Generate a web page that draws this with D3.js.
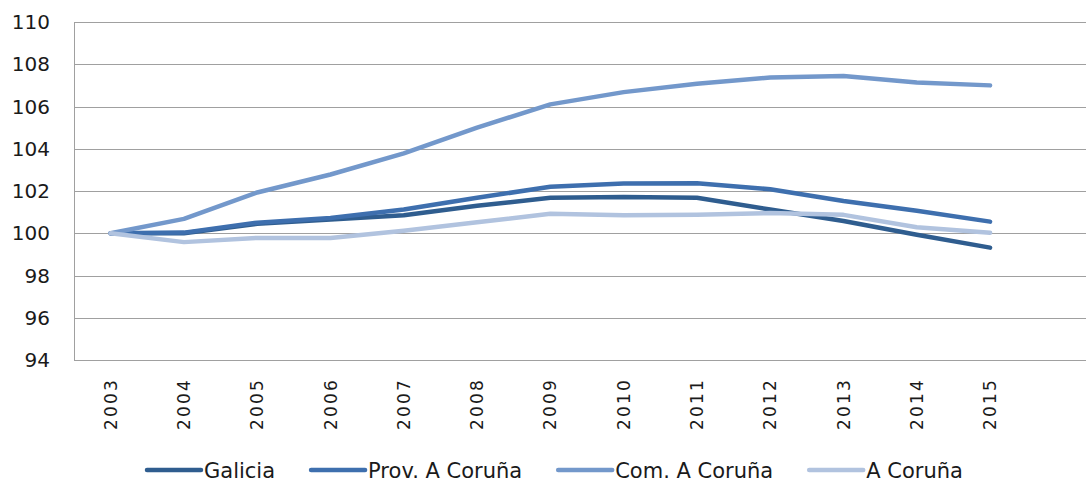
<!DOCTYPE html>
<html>
<head>
<meta charset="utf-8">
<script src="https://cdn.jsdelivr.net/npm/d3@7"></script>
<style>
  html, body { margin: 0; padding: 0; background: #fff; }
  svg { display: block; font-family: "DejaVu Sans", sans-serif; }
  .grid line { stroke: #a0a0a0; stroke-width: 1px; shape-rendering: crispEdges; }
  .series { fill: none; stroke-width: 4.5px; stroke-linejoin: round; stroke-linecap: round; }
</style>
</head>
<body>
<div id="chart"></div>
<script>
// years on the category axis
const years = ['2003', '2004', '2005', '2006', '2007', '2008', '2009',
               '2010', '2011', '2012', '2013', '2014', '2015'];

// index values (2003 = 100)
const galicia    = [100, 100.0, 100.45, 100.65, 100.85, 101.3, 101.68, 101.72, 101.68, 101.12, 100.58, 99.93, 99.32];
const provCoruna = [100, 100.03, 100.5, 100.72, 101.12, 101.68, 102.2, 102.35, 102.37, 102.08, 101.53, 101.07, 100.55];
const comCoruna  = [100, 100.68, 101.93, 102.78, 103.78, 105.0, 106.1, 106.68, 107.08, 107.37, 107.44, 107.14, 107.0];
const aCoruna    = [100, 99.58, 99.78, 99.78, 100.12, 100.52, 100.92, 100.85, 100.87, 100.96, 100.87, 100.28, 100.02];

const seriesNames = ['Galicia', 'Prov. A Coruña', 'Com. A Coruña', 'A Coruña'];
const yTicks = [94, 96, 98, 100, 102, 104, 106, 108, 110];

const series = [
  { name: seriesNames[0], values: galicia,    color: '#2f5d8f' },
  { name: seriesNames[1], values: provCoruna, color: '#3e6fae' },
  { name: seriesNames[2], values: comCoruna,  color: '#7398cb' },
  { name: seriesNames[3], values: aCoruna,    color: '#b1c3df' }
];

const width = 1086, height = 484;
const margin = { top: 22, left: 74, bottom: 124 };
// the plot runs past the right edge of the picture (one empty slot after 2015)
const plotRight = 1100;

const svg = d3.select('#chart').append('svg')
  .attr('width', width)
  .attr('height', height);

// band per year, plus one blank band at the end
const x = d3.scaleBand()
  .domain(years.concat(['']))
  .range([margin.left, plotRight]);

const y = d3.scaleLinear()
  .domain([94, 110])
  .range([height - margin.bottom, margin.top]);

const cx = d => x(d) + x.bandwidth() / 2;

// horizontal gridlines
svg.append('g')
  .attr('class', 'grid')
  .selectAll('line')
  .data(yTicks)
  .enter().append('line')
  .attr('x1', margin.left)
  .attr('x2', plotRight)
  .attr('y1', d => Math.round(y(d)) + 0.5)
  .attr('y2', d => Math.round(y(d)) + 0.5);

// left axis line
svg.append('g')
  .attr('class', 'grid')
  .append('line')
  .attr('x1', margin.left + 0.5)
  .attr('x2', margin.left + 0.5)
  .attr('y1', y(110))
  .attr('y2', y(94));

// y tick labels
svg.append('g')
  .selectAll('text')
  .data(yTicks)
  .enter().append('text')
  .attr('x', 50)
  .attr('y', d => y(d))
  .attr('dy', '0.36em')
  .attr('text-anchor', 'end')
  .style('font-size', '20px')
  .style('fill', '#1a1a1a')
  .text(d => d);

// x tick labels, rotated
svg.append('g')
  .selectAll('text')
  .data(years)
  .enter().append('text')
  .attr('transform', d => `translate(${cx(d) + 6},${y(94) + 18}) rotate(-90)`)
  .attr('text-anchor', 'end')
  .style('font-size', '17px')
  .style('letter-spacing', '2.2px')
  .style('fill', '#1a1a1a')
  .text(d => d);

// the lines
const line = d3.line()
  .x((d, i) => cx(years[i]))
  .y(d => y(d));

svg.append('g')
  .selectAll('path')
  .data(series)
  .enter().append('path')
  .attr('class', 'series')
  .attr('stroke', d => d.color)
  .attr('d', d => line(d.values));

// legend along the bottom
const legend = svg.append('g').attr('transform', 'translate(0,470)');
let lx = 147;
series.forEach(s => {
  legend.append('line')
    .attr('x1', lx).attr('x2', lx + 54)
    .attr('y1', 0).attr('y2', 0)
    .attr('stroke', s.color)
    .attr('stroke-width', 4.5)
    .attr('stroke-linecap', 'round');
  const t = legend.append('text')
    .attr('x', lx + 57)
    .attr('y', 0)
    .attr('dy', '0.36em')
    .style('font-size', '21px')
    .style('fill', '#1a1a1a')
    .text(s.name);
  lx += 57 + t.node().getComputedTextLength() + 36;
});
</script>
</body>
</html>
